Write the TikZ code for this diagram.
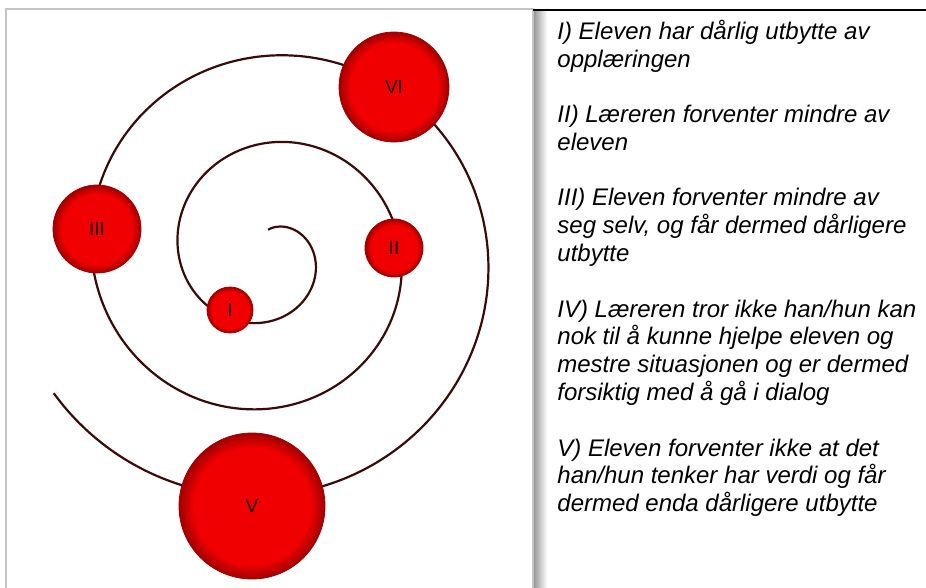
\documentclass[tikz,border=0pt]{standalone}
\usepackage{fontspec}
\setmainfont{Liberation Sans}
\usetikzlibrary{positioning}
\definecolor{ink}{HTML}{3A0B0B}
\definecolor{ballred}{HTML}{F00000}
\definecolor{rim}{HTML}{A00000}
\definecolor{frame}{HTML}{C4C4C4}
\pgfdeclareradialshading{ball}{\pgfpoint{0bp}{0bp}}{color(0bp)=(ballred); color(20bp)=(ballred); color(25bp)=(rim); color(50bp)=(rim)}
\begin{document}
\begin{tikzpicture}[x=0.5pt,y=-0.5pt,
  stage/.style={circle,shading=ball,draw=rim,line width=0.4pt,inner sep=0pt,font=\fontsize{9.5}{11}\selectfont,text=black!90!red},
  note/.style={anchor=base west,inner sep=0pt,align=left,font=\fontsize{12}{13.85}\selectfont\itshape}]
 \useasboundingbox (0,0) rectangle (926,588);
 \clip (0,0) rectangle (926,588);
 \draw[frame,line width=1pt] (6,9) rectangle (533,600);
 \shade[left color=black!40,right color=white] (534,11) rectangle (547,600);
 \draw[line width=1pt] (533,10) -- (926,10);
 % spiral
 \draw[ink,line width=1.1pt] plot[domain=0:957,samples=240,smooth] ({268+(24.25+0.2417*\x)*sin(\x)},{254-(24.25+0.2417*\x)*cos(\x)});
 \node[stage,minimum size=23pt] (s1) at (230,310) {I};
 \node[stage,minimum size=29pt] (s2) at (394,248) {II};
 \node[stage,minimum size=44pt] (s3) at (97,229) {III};
 \node[stage,minimum size=55pt] (s6) at (394,87) {VI};
 \node[stage,minimum size=73pt] (s5) at (252,506) {V};
 % legend (base = last line)
 \node[note] (t1) at (557,67.7) {I) Eleven har dårlig utbytte av\\opplæringen};
 \node[note] (t2) at (557,150.7) {II) Læreren forventer mindre av\\eleven};
 \node[note] (t3) at (557,261.4) {III) Eleven forventer mindre av\\seg selv, og får dermed dårligere\\utbytte};
 \node[note] (t4) at (557,400.1) {IV) Læreren tror ikke han/hun kan\\nok til å kunne hjelpe eleven og\\mestre situasjonen og er dermed\\forsiktig med å gå i dialog};
 \node[note] (t5) at (557,511.4) {V) Eleven forventer ikke at det\\han/hun tenker har verdi og får\\dermed enda dårligere utbytte};
\end{tikzpicture}
\end{document}
